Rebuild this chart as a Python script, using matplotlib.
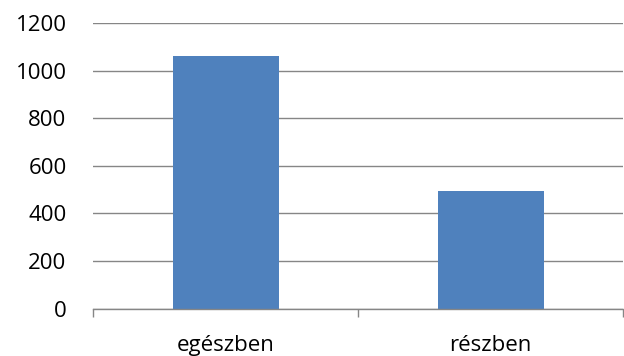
import matplotlib
matplotlib.use("Agg")
import matplotlib.pyplot as plt
import numpy as np

categories = ["egészben", "részben"]
values = [1060, 495]
yticks = [0, 200, 400, 600, 800, 1000, 1200]

plt.rcParams['font.family'] = ['Open Sans', 'DejaVu Sans']

fig = plt.figure(figsize=(6.24, 3.56), dpi=100)
ax = fig.add_axes([93/624, 1 - 308.7/356, (623 - 93)/624, (308.7 - 23)/356])

x = np.arange(len(categories))
ax.bar(x, values, width=0.4, color="#4F81BD", zorder=3)

ax.set_xlim(-0.5, len(categories) - 0.5)
ax.set_ylim(0, 1200)
ax.set_yticks(yticks)
ax.set_yticklabels([str(v) for v in yticks])
ax.yaxis.grid(True, color="#868686", linewidth=1.0, zorder=0)
ax.tick_params(axis='y', length=0, pad=19, labelsize=16, colors='black')

# x axis ticks at category boundaries
ax.set_xticks(np.arange(-0.5, len(categories)), minor=False)
ax.set_xticklabels([""] * (len(categories) + 1))
ax.tick_params(axis='x', which='major', length=6, width=1.0, color="#868686", direction='out')
ax.set_xticks(x, minor=True)
ax.set_xticklabels(categories, minor=True)
ax.tick_params(axis='x', which='minor', length=0, pad=19, labelsize=16)

for s in ['top', 'right', 'left']:
    ax.spines[s].set_visible(False)
ax.spines['bottom'].set_color("#868686")
ax.spines['bottom'].set_linewidth(1.0)
ax.spines['bottom'].set_zorder(4)

fig.savefig("out.png", dpi=100)
